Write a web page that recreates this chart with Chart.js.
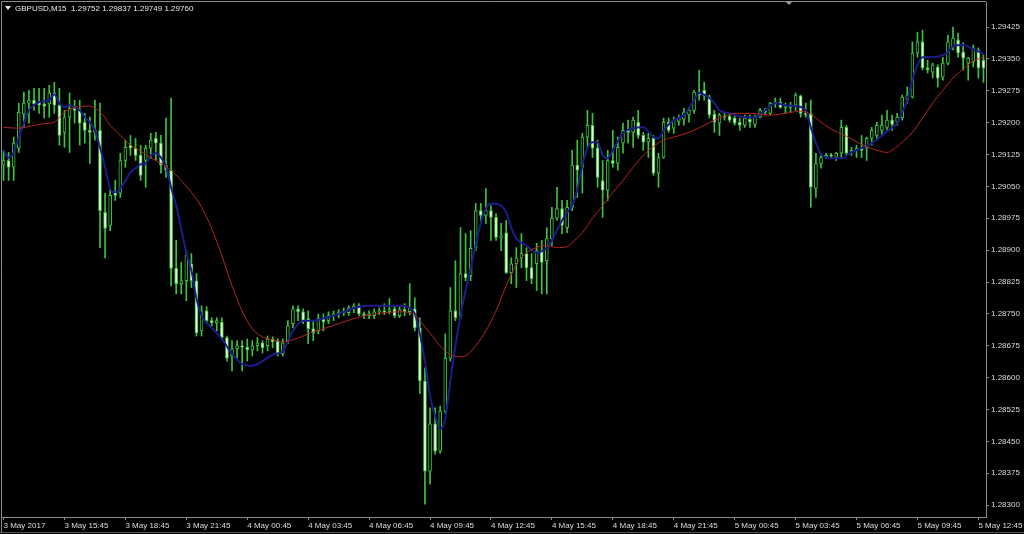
<!DOCTYPE html>
<html>
<head>
<meta charset="utf-8">
<script src="https://cdn.jsdelivr.net/npm/chart.js@4.4.1/dist/chart.umd.min.js"></script>
<style>
  html, body { margin: 0; padding: 0; background: #000; }
  canvas { display: block; }
</style>
</head>
<body>
<canvas id="gbpChart" width="1024" height="534"></canvas>
<script>
// GBPUSD M15, 3 May 12:45 -> 5 May 13:00, one entry per bar
const opens = [
  1.29100,1.29111,1.29095,1.29140,1.29220,1.29246,1.29253,1.29248,1.29244,1.29244,
  1.29270,1.29241,1.29177,1.29213,1.29234,1.29229,1.29201,1.29182,1.29177,1.29182,
  1.28989,1.28958,1.29036,1.29034,1.29111,1.29147,1.29140,1.29123,1.29111,1.29140,
  1.29163,1.29152,1.29100,1.29088,1.28857,1.28821,1.28828,1.28868,1.28828,1.28710,
  1.28757,1.28734,1.28729,1.28731,1.28694,1.28651,1.28668,1.28675,1.28672,1.28665,
  1.28675,1.28682,1.28675,1.28691,1.28687,1.28656,1.28687,1.28727,1.28762,1.28755,
  1.28739,1.28715,1.28710,1.28739,1.28734,1.28746,1.28750,1.28753,1.28753,1.28764,
  1.28769,1.28750,1.28746,1.28746,1.28755,1.28757,1.28755,1.28762,1.28746,1.28760,
  1.28755,1.28762,1.28717,1.28592,1.28380,1.28491,1.28427,1.28521,1.28646,1.28757,
  1.28746,1.28845,1.28840,1.28906,1.28993,1.28982,1.28993,1.28977,1.28930,1.28941,
  1.28847,1.28868,1.28882,1.28892,1.28859,1.28868,1.28899,1.28875,1.28927,1.28975,
  1.28998,1.28953,1.29001,1.29100,1.29095,1.29166,1.29194,1.29140,1.29064,1.29041,
  1.29111,1.29104,1.29152,1.29182,1.29177,1.29201,1.29170,1.29154,1.29163,1.29081,
  1.29118,1.29201,1.29187,1.29203,1.29208,1.29218,1.29229,1.29270,1.29276,1.29260,
  1.29220,1.29199,1.29215,1.29215,1.29211,1.29201,1.29194,1.29208,1.29196,1.29213,
  1.29229,1.29222,1.29246,1.29248,1.29236,1.29239,1.29241,1.29263,1.29222,1.29222,
  1.29045,1.29104,1.29118,1.29123,1.29118,1.29128,1.29189,1.29130,1.29135,1.29140,
  1.29140,1.29163,1.29170,1.29182,1.29189,1.29206,1.29201,1.29211,1.29253,1.29260,
  1.29364,1.29390,1.29329,1.29319,1.29331,1.29307,1.29340,1.29378,1.29395,1.29366,
  1.29340,1.29343,1.29371,1.29347
];
const highs = [
  1.29135,1.29130,1.29166,1.29246,1.29272,1.29276,1.29281,1.29281,1.29281,1.29288,
  1.29295,1.29281,1.29229,1.29270,1.29253,1.29253,1.29222,1.29213,1.29253,1.29246,
  1.29034,1.29041,1.29064,1.29128,1.29159,1.29170,1.29163,1.29147,1.29147,1.29175,
  1.29177,1.29170,1.29211,1.29258,1.28923,1.28871,1.28899,1.28892,1.28845,1.28769,
  1.28767,1.28741,1.28741,1.28741,1.28698,1.28687,1.28687,1.28687,1.28691,1.28687,
  1.28694,1.28687,1.28698,1.28696,1.28691,1.28691,1.28734,1.28769,1.28769,1.28762,
  1.28757,1.28734,1.28750,1.28750,1.28755,1.28757,1.28760,1.28764,1.28769,1.28774,
  1.28774,1.28755,1.28757,1.28762,1.28764,1.28774,1.28786,1.28769,1.28767,1.28774,
  1.28821,1.28788,1.28741,1.28623,1.28529,1.28529,1.28533,1.28703,1.28812,1.28875,
  1.28953,1.28939,1.28946,1.29010,1.29010,1.29045,1.29005,1.28986,1.28963,1.28970,
  1.28882,1.28906,1.28939,1.28906,1.28892,1.28916,1.28923,1.28953,1.29001,1.29048,
  1.29017,1.29017,1.29135,1.29159,1.29175,1.29229,1.29222,1.29159,1.29111,1.29135,
  1.29182,1.29166,1.29199,1.29206,1.29213,1.29229,1.29177,1.29175,1.29170,1.29128,
  1.29211,1.29211,1.29213,1.29218,1.29234,1.29236,1.29276,1.29324,1.29295,1.29265,
  1.29229,1.29222,1.29222,1.29222,1.29218,1.29211,1.29218,1.29218,1.29218,1.29234,
  1.29234,1.29248,1.29258,1.29258,1.29246,1.29248,1.29270,1.29265,1.29246,1.29253,
  1.29128,1.29128,1.29128,1.29128,1.29130,1.29206,1.29194,1.29142,1.29147,1.29170,
  1.29166,1.29189,1.29201,1.29218,1.29229,1.29218,1.29222,1.29265,1.29284,1.29390,
  1.29413,1.29418,1.29347,1.29340,1.29336,1.29354,1.29406,1.29425,1.29411,1.29388,
  1.29354,1.29383,1.29376,1.29359
];
const lows = [
  1.29064,1.29064,1.29064,1.29130,1.29189,1.29199,1.29229,1.29222,1.29211,1.29213,
  1.29222,1.29147,1.29142,1.29130,1.29199,1.29147,1.29152,1.29104,1.29159,1.28906,
  1.28882,1.28946,1.29017,1.29024,1.29095,1.29123,1.29111,1.29064,1.29048,1.29116,
  1.29111,1.29081,1.29071,1.28816,1.28797,1.28797,1.28781,1.28812,1.28698,1.28698,
  1.28727,1.28722,1.28710,1.28691,1.28639,1.28616,1.28646,1.28616,1.28639,1.28651,
  1.28663,1.28658,1.28663,1.28670,1.28651,1.28651,1.28680,1.28717,1.28734,1.28727,
  1.28680,1.28687,1.28703,1.28710,1.28727,1.28734,1.28741,1.28746,1.28746,1.28753,
  1.28746,1.28739,1.28739,1.28739,1.28748,1.28748,1.28750,1.28741,1.28741,1.28746,
  1.28748,1.28710,1.28562,1.28302,1.28349,1.28420,1.28422,1.28517,1.28639,1.28734,
  1.28739,1.28828,1.28828,1.28899,1.28965,1.28963,1.28923,1.28923,1.28899,1.28845,
  1.28821,1.28812,1.28859,1.28828,1.28821,1.28805,1.28797,1.28797,1.28911,1.28970,
  1.28939,1.28941,1.28993,1.29024,1.29034,1.29142,1.29118,1.29048,1.28977,1.29017,
  1.29095,1.29088,1.29128,1.29152,1.29142,1.29163,1.29135,1.29118,1.29076,1.29048,
  1.29116,1.29177,1.29175,1.29194,1.29194,1.29201,1.29222,1.29253,1.29253,1.29211,
  1.29177,1.29170,1.29206,1.29201,1.29194,1.29182,1.29189,1.29189,1.29189,1.29211,
  1.29218,1.29218,1.29236,1.29234,1.29222,1.29225,1.29229,1.29213,1.29213,1.29001,
  1.29024,1.29093,1.29116,1.29116,1.29111,1.29118,1.29123,1.29123,1.29118,1.29118,
  1.29111,1.29147,1.29159,1.29170,1.29182,1.29182,1.29194,1.29206,1.29246,1.29258,
  1.29354,1.29324,1.29317,1.29305,1.29284,1.29300,1.29336,1.29371,1.29354,1.29324,
  1.29300,1.29331,1.29305,1.29295
];
const closes = [
  1.29111,1.29095,1.29152,1.29225,1.29246,1.29253,1.29244,1.29241,1.29239,1.29270,
  1.29241,1.29170,1.29213,1.29234,1.29229,1.29199,1.29182,1.29177,1.29182,1.28993,
  1.28951,1.29029,1.29029,1.29111,1.29142,1.29140,1.29123,1.29076,1.29140,1.29159,
  1.29152,1.29100,1.29088,1.28857,1.28821,1.28828,1.28887,1.28828,1.28705,1.28757,
  1.28734,1.28729,1.28734,1.28694,1.28646,1.28668,1.28675,1.28672,1.28665,1.28675,
  1.28682,1.28670,1.28691,1.28684,1.28656,1.28682,1.28722,1.28762,1.28755,1.28734,
  1.28715,1.28705,1.28739,1.28731,1.28746,1.28750,1.28753,1.28757,1.28764,1.28769,
  1.28750,1.28746,1.28750,1.28755,1.28757,1.28755,1.28760,1.28746,1.28760,1.28755,
  1.28764,1.28717,1.28592,1.28380,1.28491,1.28427,1.28521,1.28646,1.28757,1.28741,
  1.28845,1.28835,1.28904,1.28993,1.28982,1.28993,1.28977,1.28930,1.28934,1.28847,
  1.28868,1.28882,1.28892,1.28859,1.28833,1.28899,1.28871,1.28927,1.28975,1.28998,
  1.28958,1.29001,1.29100,1.29088,1.29166,1.29194,1.29140,1.29071,1.29041,1.29111,
  1.29104,1.29142,1.29182,1.29177,1.29206,1.29170,1.29154,1.29163,1.29081,1.29118,
  1.29201,1.29182,1.29206,1.29211,1.29225,1.29229,1.29272,1.29265,1.29263,1.29218,
  1.29201,1.29218,1.29213,1.29206,1.29199,1.29194,1.29211,1.29201,1.29213,1.29229,
  1.29225,1.29246,1.29248,1.29236,1.29239,1.29236,1.29265,1.29222,1.29218,1.29048,
  1.29104,1.29118,1.29123,1.29121,1.29128,1.29189,1.29128,1.29135,1.29140,1.29135,
  1.29163,1.29182,1.29194,1.29194,1.29206,1.29196,1.29213,1.29260,1.29265,1.29364,
  1.29390,1.29329,1.29324,1.29336,1.29305,1.29340,1.29390,1.29399,1.29364,1.29352,
  1.29352,1.29376,1.29329,1.29329
];

// moving averages: [bar index, price]
const maFast = [
  [0,1.29135],[1,1.29118],[2,1.29130],[3,1.29166],[4,1.29199],[5,1.29229],[6,1.29241],[7,1.29248],
  [9,1.29253],[10,1.29267],[11,1.29246],[12,1.29236],[13,1.29241],[14,1.29236],[15,1.29229],
  [16,1.29213],[17,1.29201],[18,1.29182],[19,1.29142],[20,1.29095],[21,1.29045],[22,1.29036],
  [23,1.29045],[24,1.29064],[25,1.29083],[26,1.29093],[27,1.29102],[28,1.29104],[29,1.29123],
  [30,1.29128],[31,1.29118],[32,1.29097],[33,1.29048],[34,1.29005],[35,1.28951],[36,1.28894],
  [37,1.28852],[38,1.28786],[39,1.28746],[41,1.28717],[43,1.28691],[45,1.28656],[47,1.28632],
  [49,1.28628],[51,1.28639],[53,1.28654],[55,1.28663],[57,1.28710],[59,1.28734],[61,1.28734],
  [63,1.28739],[66,1.28750],[69,1.28764],[72,1.28769],[75,1.28769],[78,1.28769],[80,1.28764],
  [81,1.28750],[82,1.28703],[83,1.28639],[84,1.28557],[85,1.28510],[86,1.28479],[87,1.28503],
  [88,1.28592],[89,1.28675],[90,1.28746],[91,1.28805],[92,1.28857],[93,1.28911],[94,1.28965],
  [95,1.28998],[96,1.29010],[98,1.29005],[99,1.28989],[100,1.28953],[101,1.28927],[103,1.28911],
  [105,1.28894],[107,1.28906],[108,1.28923],[109,1.28946],[110,1.28970],[111,1.28989],[112,1.29005],
  [113,1.29041],[114,1.29100],[115,1.29140],[116,1.29154],[117,1.29154],[118,1.29123],[119,1.29116],
  [120,1.29135],[122,1.29175],[124,1.29187],[126,1.29189],[128,1.29166],[129,1.29163],[130,1.29182],
  [132,1.29206],[134,1.29218],[136,1.29253],[137,1.29270],[139,1.29258],[140,1.29246],[141,1.29229],
  [143,1.29222],[146,1.29213],[148,1.29213],[150,1.29229],[152,1.29246],[154,1.29241],[156,1.29239],
  [158,1.29229],[159,1.29189],[160,1.29152],[161,1.29126],[163,1.29116],[165,1.29116],[167,1.29130],
  [169,1.29140],[171,1.29152],[173,1.29170],[175,1.29189],[176,1.29199],[177,1.29225],[178,1.29253],
  [179,1.29300],[180,1.29336],[181,1.29354],[183,1.29354],[185,1.29359],[186,1.29366],[187,1.29380],
  [189,1.29383],[191,1.29373],[193,1.29362]
];
const maSlow = [
  [0,1.29189],[3,1.29187],[6,1.29194],[9,1.29199],[10,1.29201],[12,1.29225],[14,1.29236],[17,1.29239],
  [18,1.29234],[19,1.29225],[20,1.29211],[21,1.29194],[23,1.29170],[25,1.29147],[27,1.29133],
  [29,1.29118],[31,1.29104],[33,1.29088],[35,1.29064],[37,1.29036],[39,1.29001],[41,1.28951],
  [43,1.28887],[45,1.28816],[47,1.28757],[49,1.28715],[51,1.28696],[53,1.28689],[55,1.28684],
  [57,1.28689],[59,1.28698],[61,1.28708],[63,1.28715],[66,1.28727],[69,1.28739],[72,1.28748],
  [75,1.28753],[78,1.28755],[80,1.28753],[81,1.28748],[82,1.28734],[84,1.28705],[86,1.28675],
  [88,1.28654],[90,1.28649],[91,1.28651],[93,1.28675],[95,1.28710],[97,1.28757],[99,1.28816],
  [101,1.28866],[103,1.28894],[105,1.28906],[107,1.28911],[109,1.28906],[111,1.28908],[112,1.28918],
  [114,1.28941],[116,1.28975],[118,1.29005],[120,1.29036],[122,1.29064],[124,1.29095],[126,1.29123],
  [128,1.29144],[130,1.29159],[132,1.29166],[134,1.29173],[136,1.29182],[138,1.29194],[140,1.29206],
  [142,1.29215],[144,1.29222],[147,1.29222],[151,1.29218],[154,1.29222],[157,1.29227],[159,1.29220],
  [161,1.29201],[163,1.29185],[166,1.29168],[169,1.29149],[172,1.29135],[174,1.29130],[175,1.29135],
  [177,1.29154],[179,1.29177],[181,1.29211],[183,1.29246],[185,1.29276],[187,1.29305],[189,1.29326],
  [191,1.29345],[193,1.29354]
];

const xTickPos = [0,12,24,36,48,60,72,84,96,108,120,132,144,156,168,180,192];
const xTickLabels = [
  "3 May 2017","3 May 15:45","3 May 18:45","3 May 21:45","4 May 00:45","4 May 03:45",
  "4 May 06:45","4 May 09:45","4 May 12:45","4 May 15:45","4 May 18:45","4 May 21:45",
  "5 May 00:45","5 May 03:45","5 May 06:45","5 May 09:45","5 May 12:45"
];
const yTicks = [1.28300,1.28375,1.28450,1.28525,1.28600,1.28675,1.28750,1.28825,
                1.28900,1.28975,1.29050,1.29125,1.29200,1.29275,1.29350,1.29425];
const headerText = "GBPUSD,M15  1.29752 1.29837 1.29749 1.29760";

const GREEN = '#3cc43c';
const AXIS = '#8a8a8a';
const TEXT = '#dcdcdc';
const FONT = { family: '"Liberation Sans", Arial, sans-serif', size: 8 };

const labels = opens.map((_, i) => String(i));
const toLine = (pts) => {
  const arr = new Array(opens.length).fill(null);
  pts.forEach(([i, v]) => { arr[i] = v; });
  return arr;
};

const mt4Look = {
  id: 'mt4Look',
  beforeDraw(chart) {
    const c = chart.ctx;
    c.save();
    c.fillStyle = '#000';
    c.fillRect(0, 0, chart.width, chart.height);
    c.restore();
  },
  afterDraw(chart) {
    const c = chart.ctx, a = chart.chartArea;
    c.save();
    // frame
    c.strokeStyle = AXIS;
    c.lineWidth = 1;
    c.beginPath();
    c.moveTo(1.5, 533); c.lineTo(1.5, 1.5); c.lineTo(a.right, 1.5);
    c.stroke();
    c.strokeStyle = '#555';
    c.beginPath();
    c.moveTo(0, 532.5); c.lineTo(chart.width, 532.5);
    c.stroke();
    // header
    c.fillStyle = '#e8e8e8';
    c.beginPath();
    c.moveTo(5, 6); c.lineTo(11, 6); c.lineTo(8, 10); c.closePath();
    c.fill();
    c.font = '8px "Liberation Sans", Arial, sans-serif';
    c.textBaseline = 'middle';
    c.fillText(headerText, 15, 8.5);
    // chart shift marker
    c.fillStyle = '#9a9a9a';
    c.beginPath();
    c.moveTo(785, 1); c.lineTo(793, 1); c.lineTo(789, 5); c.closePath();
    c.fill();
    c.restore();
  }
};

new Chart(document.getElementById('gbpChart').getContext('2d'), {
  type: 'bar',
  data: {
    labels: labels,
    datasets: [
      {
        type: 'line', data: toLine(maSlow), borderColor: '#b3261e', borderWidth: 1,
        pointRadius: 0, spanGaps: true, tension: 0.4, cubicInterpolationMode: 'monotone'
      },
      {
        type: 'line', data: toLine(maFast), borderColor: '#1c1c8e', borderWidth: 2,
        pointRadius: 0, spanGaps: true, tension: 0.4, cubicInterpolationMode: 'monotone'
      },
      {
        data: opens.map((o, i) => [o, closes[i]]),
        backgroundColor: opens.map((o, i) => closes[i] < o ? '#e6fbdc' : '#000000'),
        borderColor: GREEN, borderWidth: 1, borderSkipped: false,
        barThickness: 3, minBarLength: 1, grouped: false
      },
      {
        data: lows.map((l, i) => [l, highs[i]]),
        backgroundColor: GREEN, borderWidth: 0,
        barThickness: 1, grouped: false
      }
    ]
  },
  options: {
    responsive: false,
    animation: false,
    layout: { padding: { left: 1, top: 2, right: 0, bottom: 0 } },
    plugins: { legend: { display: false }, tooltip: { enabled: false } },
    scales: {
      x: {
        position: 'bottom',
        grid: { display: true, drawOnChartArea: false, tickLength: 3, color: AXIS, offset: false },
        border: { display: true, color: AXIS },
        ticks: {
          autoSkip: false, maxRotation: 0, align: 'start', padding: 1,
          color: TEXT, font: FONT,
          callback: (v) => xTickLabels[xTickPos.indexOf(v)]
        },
        afterBuildTicks: (s) => { s.ticks = xTickPos.map(v => ({ value: v })); },
        afterFit: (s) => { s.height = 17; s.paddingLeft = 0; s.paddingRight = 0; }
      },
      y: {
        position: 'right',
        min: 1.28272, max: 1.29484,
        grid: { display: true, drawOnChartArea: false, tickLength: 3, color: AXIS },
        border: { display: true, color: AXIS },
        ticks: {
          color: TEXT, font: FONT, padding: 2,
          callback: (v) => v.toFixed(5)
        },
        afterBuildTicks: (s) => { s.ticks = yTicks.map(v => ({ value: v })); },
        afterFit: (s) => { s.width = 38; s.paddingTop = 0; s.paddingBottom = 0; }
      }
    }
  },
  plugins: [mt4Look]
});
</script>
</body>
</html>
